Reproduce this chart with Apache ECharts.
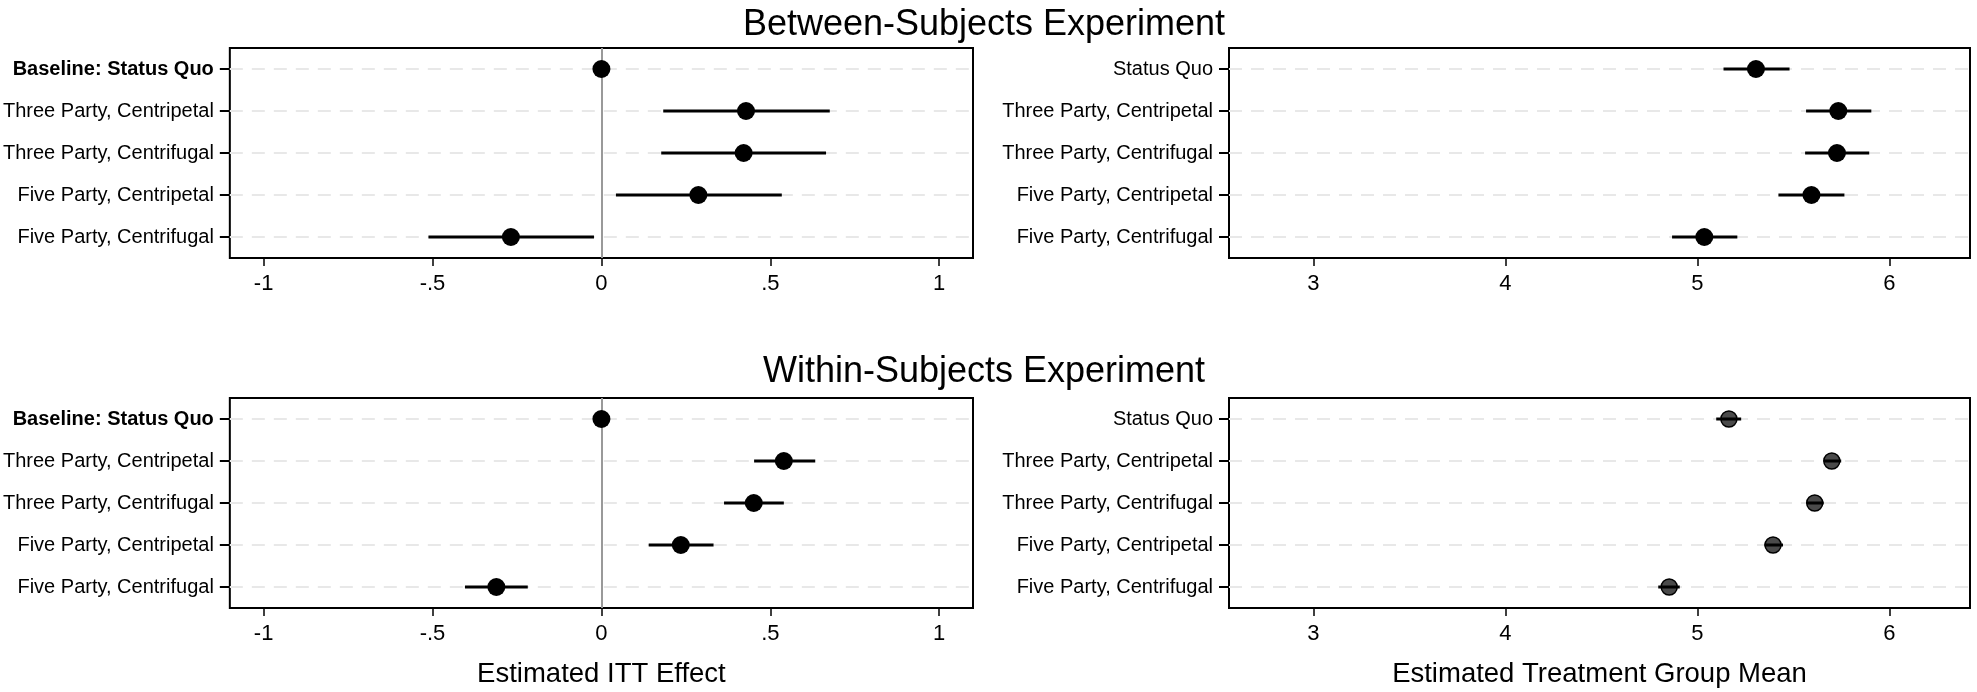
<!DOCTYPE html>
<html>
<head>
<meta charset="utf-8">
<script src="https://cdn.jsdelivr.net/npm/echarts@6/dist/echarts.min.js"></script>
<style>
  html, body { margin: 0; padding: 0; background: #fff; }
  #chart { width: 1977px; height: 692px; }
</style>
</head>
<body>
<div id="chart"></div>
<script>
const FONT = "'Liberation Sans', Arial, sans-serif";

// row labels
const effectCats = ["Baseline: Status Quo", "Three Party, Centripetal", "Three Party, Centrifugal", "Five Party, Centripetal", "Five Party, Centrifugal"];
const meanCats = ["Status Quo", "Three Party, Centripetal", "Three Party, Centrifugal", "Five Party, Centripetal", "Five Party, Centrifugal"];

// between-subjects: ITT effect (estimate, lower, upper)
const betweenEffect = [0, 0.428, 0.421, 0.287, -0.268];
const betweenEffectLo = [0, 0.183, 0.177, 0.043, -0.512];
const betweenEffectHi = [0, 0.676, 0.665, 0.534, -0.022];

// between-subjects: group means
const betweenMean = [5.305, 5.734, 5.727, 5.594, 5.036];
const betweenMeanLo = [5.136, 5.566, 5.561, 5.422, 4.868];
const betweenMeanHi = [5.480, 5.906, 5.895, 5.766, 5.208];

// within-subjects: ITT effect
const withinEffect = [0, 0.540, 0.451, 0.235, -0.311];
const withinEffectLo = [0, 0.452, 0.363, 0.140, -0.404];
const withinEffectHi = [0, 0.633, 0.540, 0.332, -0.218];

// within-subjects: group means
const withinMean = [5.164, 5.700, 5.611, 5.394, 4.853];
const withinMeanLo = [5.098, 5.660, 5.571, 5.349, 4.796];
const withinMeanHi = [5.228, 5.749, 5.658, 5.446, 4.908];

// x tick labels
const effectTicks = [-1, -0.5, 0, 0.5, 1];
const meanTicks = [3, 4, 5, 6];

const fmtTick = (v) => String(v).replace("0.", ".");

const grids = [
  { left: 228, top: 48, width: 745, height: 210 },
  { left: 1229, top: 48, width: 741, height: 210 },
  { left: 228, top: 398, width: 745, height: 210 },
  { left: 1229, top: 398, width: 741, height: 210 },
].map((g) => ({ ...g, show: true, borderColor: "#000", borderWidth: 2, backgroundColor: "transparent" }));

const xAxisFor = (idx, isEffect, name) => ({
  type: "value",
  gridIndex: idx,
  min: isEffect ? -1.1 : 2.56,
  max: isEffect ? 1.1 : 6.42,
  axisLine: { show: false, onZero: false },
  splitLine: { show: false },
  axisTick: {
    show: true,
    length: 8,
    customValues: isEffect ? effectTicks : meanTicks,
    lineStyle: { color: "#000", width: 1.5 },
  },
  axisLabel: {
    customValues: isEffect ? effectTicks : meanTicks,
    formatter: fmtTick,
    fontSize: 22,
    color: "#000",
    fontFamily: FONT,
    margin: 15,
  },
  name: name,
  nameLocation: "middle",
  nameGap: 52,
  nameTextStyle: { fontSize: 27.5, color: "#000", fontFamily: FONT },
});

const yAxisFor = (idx, cats) => ({
  type: "category",
  gridIndex: idx,
  data: cats,
  inverse: true,
  axisLine: { show: false, onZero: false },
  splitLine: { show: false },
  axisTick: { show: true, alignWithLabel: true, length: 10, lineStyle: { color: "#000", width: 2 } },
  axisLabel: {
    fontSize: 20,
    color: "#000",
    fontFamily: FONT,
    margin: 16,
    formatter: (v) => (v.indexOf("Baseline") === 0 ? "{b|" + v + "}" : v),
    rich: { b: { fontSize: 20, fontWeight: "bold", color: "#000", fontFamily: FONT } },
  },
});

const panelSeries = (idx, cats, est, lo, hi, zeroLine, markerStyle) => {
  const gridLines = cats.map((c) => ({
    yAxis: c,
    lineStyle: { color: "#e8e8e8", width: 2, type: [13, 9] },
  }));
  if (zeroLine) {
    gridLines.push({ xAxis: 0, lineStyle: { color: "#999", width: 2, type: "solid" } });
  }
  return [
    {
      type: "scatter",
      xAxisIndex: idx,
      yAxisIndex: idx,
      data: [],
      z: 1,
      silent: true,
      markLine: { z: 1, silent: true, symbol: ["none", "none"], label: { show: false }, animation: false, data: gridLines },
    },
    {
      type: "scatter",
      xAxisIndex: idx,
      yAxisIndex: idx,
      z: 8,
      symbol: "circle",
      symbolSize: markerStyle.size,
      itemStyle: markerStyle.item,
      data: est.map((v, i) => [v, i]),
    },
    {
      type: "custom",
      xAxisIndex: idx,
      yAxisIndex: idx,
      z: 9,
      data: est.map((v, i) => [lo[i], i, hi[i]]),
      encode: { x: [0, 2], y: 1 },
      renderItem: (params, api) => {
        const y = api.value(1);
        const p1 = api.coord([api.value(0), y]);
        const p2 = api.coord([api.value(2), y]);
        return {
          type: "line",
          shape: { x1: p1[0], y1: p1[1], x2: p2[0], y2: p2[1] },
          style: { stroke: "#000", lineWidth: 3 },
        };
      },
    },
  ];
};

const blackDot = { size: 18, item: { color: "#000", opacity: 1 } };
const greyDot = { size: 16, item: { color: "#4a4a4a", borderColor: "#000", borderWidth: 1.5, opacity: 1 } };

const chart = echarts.init(document.getElementById("chart"), null, { renderer: "canvas" });
chart.setOption({
  animation: false,
  backgroundColor: "#fff",
  title: [
    { text: "Between-Subjects Experiment", left: 979, textAlign: "center", top: 2,
      textStyle: { fontSize: 36, fontWeight: "normal", color: "#000", fontFamily: FONT } },
    { text: "Within-Subjects Experiment", left: 979, textAlign: "center", top: 349,
      textStyle: { fontSize: 36, fontWeight: "normal", color: "#000", fontFamily: FONT } },
  ],
  grid: grids,
  xAxis: [
    xAxisFor(0, true, ""),
    xAxisFor(1, false, ""),
    xAxisFor(2, true, "Estimated ITT Effect"),
    xAxisFor(3, false, "Estimated Treatment Group Mean"),
  ],
  yAxis: [yAxisFor(0, effectCats), yAxisFor(1, meanCats), yAxisFor(2, effectCats), yAxisFor(3, meanCats)],
  series: [
    ...panelSeries(0, effectCats, betweenEffect, betweenEffectLo, betweenEffectHi, true, blackDot),
    ...panelSeries(1, meanCats, betweenMean, betweenMeanLo, betweenMeanHi, false, blackDot),
    ...panelSeries(2, effectCats, withinEffect, withinEffectLo, withinEffectHi, true, blackDot),
    ...panelSeries(3, meanCats, withinMean, withinMeanLo, withinMeanHi, false, greyDot),
  ],
});
</script>
</body>
</html>
